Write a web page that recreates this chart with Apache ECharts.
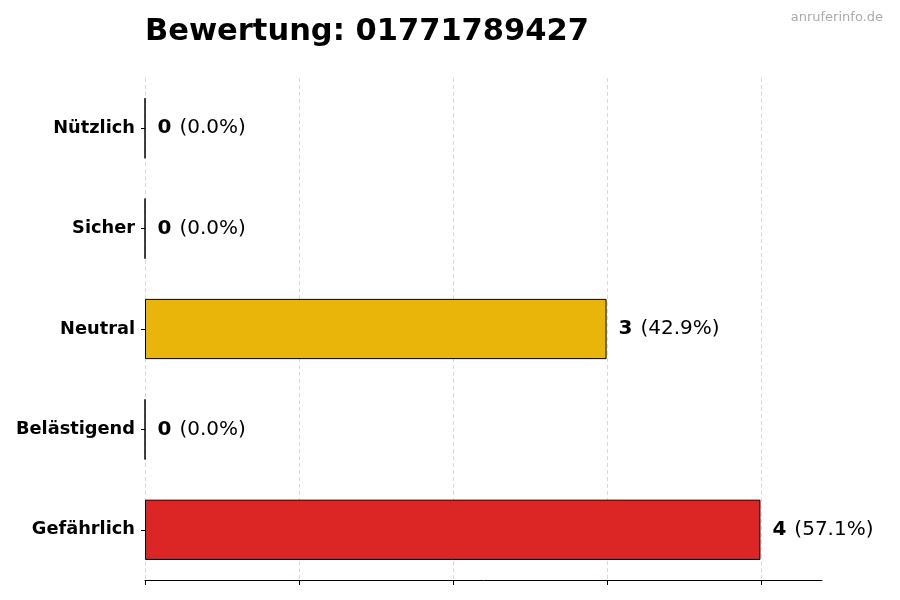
<!DOCTYPE html>
<html>
<head>
<meta charset="utf-8">
<script src="https://cdn.jsdelivr.net/npm/echarts@6/dist/echarts.min.js"></script>
<style>
html, body { margin: 0; padding: 0; background: #fff; }
#chart { width: 900px; height: 600px; }
</style>
</head>
<body>
<div id="chart"></div>
<script>
var categories = ['Nützlich', 'Sicher', 'Neutral', 'Belästigend', 'Gefährlich'];
var counts = [0, 0, 3, 0, 4];
var percents = ['0.0%', '0.0%', '42.9%', '0.0%', '57.1%'];
var barColors = ['#2e9e44', '#3b82c4', '#e9b50a', '#f07c1a', '#dc2626'];

drawBars();

/**
 * Balkendiagramm
 */
function drawBars() {
    var chart = echarts.init(document.getElementById('chart'));
    var cats = categories.slice().reverse();
    var data = counts.slice().reverse().map(function(v, i) {
        var k = counts.length - 1 - i;
        return {
            value: v,
            pct: percents[k],
            itemStyle: { color: barColors[k] }
        };
    });
    var option = {
        textStyle: { fontFamily: 'DejaVu Sans' },
        title: [{
            text: 'Bewertung: 01771789427',
            left: 140,
            top: 12,
            textStyle: { fontSize: 30.5, fontWeight: 'bold', color: '#000' }
        }, {
            text: 'anruferinfo.de',
            right: 12,
            top: 6,
            textStyle: { fontSize: 13, fontWeight: 'normal', color: '#aaa' }
        }],
        grid: [{
            left: 145,
            right: 78,
            top: 78,
            bottom: 20
        }, {
            left: 145,
            right: 139,
            top: 78,
            bottom: 20
        }],
        xAxis: [{
            // Achsenlinie bis zum Rand
            type: 'value',
            gridIndex: 0,
            min: 0,
            max: 4.4,
            axisLabel: { show: false },
            axisLine: { show: true, lineStyle: { color: '#000', width: 1 } },
            axisTick: { show: false },
            splitLine: { show: false }
        }, {
            // Ticks + Gitter bei 0..4
            type: 'value',
            gridIndex: 1,
            min: 0,
            max: 4,
            interval: 1,
            axisLabel: { show: false },
            axisLine: { show: false },
            axisTick: { show: true, inside: false, length: 5, lineStyle: { color: '#000' } },
            splitLine: {
                show: true,
                lineStyle: { color: '#d9d9d9', type: [4, 3], width: 1 }
            }
        }],
        yAxis: [{
            type: 'category',
            gridIndex: 0,
            data: cats,
            axisLine: { show: false },
            axisTick: { show: true, alignWithLabel: true, length: 4, lineStyle: { color: '#000' } },
            axisLabel: { fontSize: 17.8, fontWeight: 'bold', color: '#000', margin: 10, padding: [3, 0, 0, 0] }
        }, {
            type: 'category',
            gridIndex: 1,
            data: cats,
            show: false
        }],
        series: [{
            type: 'bar',
            xAxisIndex: 0,
            yAxisIndex: 0,
            data: data,
            barWidth: '60%',
            itemStyle: { borderColor: '#000', borderWidth: 1 },
            label: {
                show: true,
                position: 'right',
                distance: 12,
                formatter: function(p) {
                    return '{b|' + p.value + '}{n|(' + p.data.pct + ')}';
                },
                rich: {
                    b: { fontSize: 20, fontWeight: 'bold', color: '#000', fontFamily: 'DejaVu Sans', padding: [0, 8, 0, 0] },
                    n: { fontSize: 20, color: '#000', fontFamily: 'DejaVu Sans' }
                }
            }
        }],
        animation: false
    };
    chart.setOption(option);
}
</script>
</body>
</html>
